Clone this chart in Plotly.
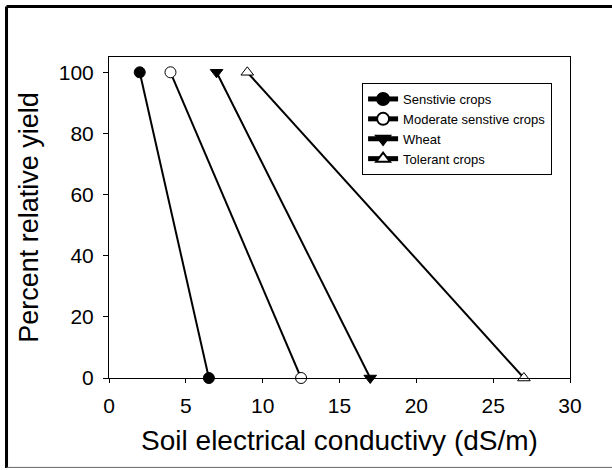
import plotly.graph_objects as go

series_names = ["Senstivie crops", "Moderate senstive crops", "Wheat", "Tolerant crops"]
ec_values = [[2, 6.5], [4, 12.5], [7, 17], [9, 27]]
yield_values = [[100, 0], [100, 0], [100, 0], [100, 0]]
symbols = ["circle", "circle", "triangle-down", "triangle-up"]
fills = ["black", "white", "black", "white"]
x_ticks = [0, 5, 10, 15, 20, 25, 30]
y_ticks = [0, 20, 40, 60, 80, 100]

FONT = "Arial, Liberation Sans, sans-serif"

fig = go.Figure()
for name, xs, ys, sym, fc in zip(series_names, ec_values, yield_values, symbols, fills):
    fig.add_trace(go.Scatter(
        x=xs, y=ys, name=name, mode="lines+markers",
        line=dict(color="black", width=2),
        marker=dict(symbol=sym, size=11, color=fc,
                    line=dict(color="black", width=1)),
        cliponaxis=False,
    ))

fig.update_layout(
    width=612, height=470,
    margin=dict(l=109, r=42, t=57, b=92),
    paper_bgcolor="white", plot_bgcolor="white",
    font=dict(family=FONT, color="black"),
    showlegend=True,
    legend=dict(x=0.549, y=0.919, xanchor="left", yanchor="top",
                bordercolor="black", borderwidth=1, bgcolor="white",
                font=dict(size=13, family=FONT), itemwidth=30,
                tracegroupgap=0, itemsizing="constant"),
    xaxis=dict(range=[0, 30], tickvals=x_ticks, showgrid=False, zeroline=False,
               showline=True, linecolor="black", linewidth=1, mirror=True,
               ticks="outside", ticklen=4, tickcolor="black", ticklabelstandoff=5,
               tickfont=dict(size=21),
               title=dict(text="Soil electrical conductivy (dS/m)", font=dict(size=28), standoff=14)),
    yaxis=dict(range=[0, 105], tickvals=y_ticks, showgrid=False, zeroline=False,
               showline=True, linecolor="black", linewidth=1, mirror=True,
               ticks="outside", ticklen=5, tickcolor="black", ticklabelstandoff=5,
               tickfont=dict(size=21),
               title=dict(text="Percent relative yield", font=dict(size=27), standoff=12)),
    shapes=[
        dict(type="line", xref="paper", yref="paper", x0=-0.2223, x1=1.2, y0=1.157, y1=1.157,
             line=dict(color="black", width=3)),
        dict(type="line", xref="paper", yref="paper", x0=-0.2223, x1=-0.2223, y0=-0.28, y1=1.157,
             line=dict(color="black", width=3)),
        dict(type="line", xref="paper", yref="paper", x0=-0.2223, x1=1.2, y0=-0.2785, y1=-0.2785,
             line=dict(color="#666666", width=1)),
    ],
)

fig.write_html("out.html", config={"displayModeBar": False},
               post_script="document.body.style.margin='0';")
